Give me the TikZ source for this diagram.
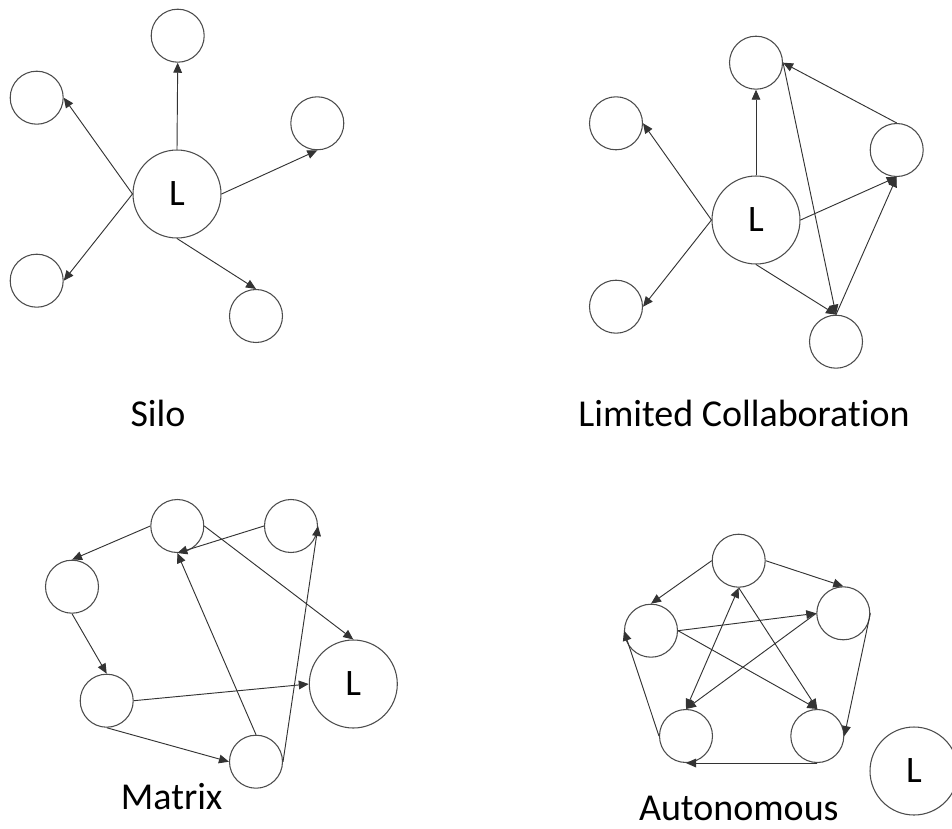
\documentclass[tikz,border=0pt]{standalone}
\usepackage{fontspec}
\setmainfont{Carlito}[Ligatures={NoCommon}]
\usetikzlibrary{arrows.meta}
\tikzset{
  sm/.style={circle,draw=black!70,line width=0.8pt,inner sep=0pt,minimum size=39.75pt,fill=white},
  big/.style={circle,draw=black!70,line width=0.8pt,inner sep=0pt,minimum size=66pt,fill=white,font=\fontsize{28}{30}\selectfont},
  edge/.style={draw=black!80,line width=0.7pt,-{Triangle[length=7.5pt,width=6.5pt]}},
  dedge/.style={draw=black!80,line width=0.7pt,{Triangle[length=7.5pt,width=6.5pt]}-{Triangle[length=7.5pt,width=6.5pt]}},
  lbl/.style={anchor=base,font=\fontsize{28.5}{30}\selectfont,inner sep=0pt}
}
\begin{document}
\begin{tikzpicture}[x=0.75pt,y=-0.75pt]
\useasboundingbox (0,0) rectangle (952,828);
% ---------- Silo ----------
\node[big] (sL) at (177,194) {L};
\node[sm] (st) at (177.7,35.7) {};
\node[sm] (slu) at (36.7,97.7) {};
\node[sm] (sr) at (317.3,123.3) {};
\node[sm] (sll) at (36.7,280.7) {};
\node[sm] (sbr) at (256,316) {};
\draw[edge] (sL.north) -- (st.south);
\draw[edge] (sL.west) -- (slu.east);
\draw[edge] (sL.west) -- (sll.east);
\draw[edge] (sL.east) -- (sr.south);
\draw[edge] (sL.south) -- (sbr.north);
\node[lbl] (silo) at (158,426.7) {Silo};
% ---------- Limited Collaboration ----------
\node[big] (cL) at (756,220) {L};
\node[sm] (ct) at (756,62.7) {};
\node[sm] (clu) at (616,123.3) {};
\node[sm] (cr) at (896.7,150) {};
\node[sm] (cll) at (616,306.7) {};
\node[sm] (cb) at (836,341.7) {};
\draw[edge] (cL.north) -- (ct.south);
\draw[edge] (cL.west) -- (clu.east);
\draw[edge] (cL.west) -- (cll.east);
\draw[edge] (cL.east) -- (cr.south);
\draw[edge] (cL.south) -- (cb.north);
\draw[edge] (ct.east) -- (cb.north);
\draw[edge] (cr.north) -- (ct.east);
\draw[edge] (cb.north) -- (cr.south);
\node[lbl] (lc) at (744,426.7) {Limited Collaboration};
% ---------- Matrix ----------
\node[big] (mL) at (353.3,684) {L};
\node[sm] (mA) at (177.3,526) {};
\node[sm] (mB) at (291,526) {};
\node[sm] (mC) at (72,586.7) {};
\node[sm] (mD) at (106.7,700.7) {};
\node[sm] (mE) at (256,761.7) {};
\draw[edge] (mA.west) -- (mC.north);
\draw[edge] (mB.west) -- (mA.south);
\draw[edge] (mA.east) -- (mL.north);
\draw[edge] (mC.south) -- (mD.north);
\draw[edge] (mD.east) -- (mL.west);
\draw[edge] (mD.south) -- (mE.west);
\draw[edge] (mE.north) -- (mA.south);
\draw[edge] (mE.east) -- (mB.east);
\node[lbl] (matrix) at (171.7,809) {Matrix};
% ---------- Autonomous ----------
\node[big] (aL) at (914,771) {L};
\node[sm] (aT) at (738.7,560.7) {};
\node[sm] (aR) at (843.3,613.3) {};
\node[sm] (aF) at (651,630.7) {};
\node[sm] (aBL) at (686,736) {};
\node[sm] (aBR) at (817.3,736) {};
\draw[edge] (aT.west) -- (aF.north);
\draw[edge] (aT.east) -- (aR.north);
\draw[edge] (aR.east) -- (aBR.east);
\draw[edge] (aBR.south) -- (aBL.south);
\draw[edge] (aBL.west) -- (aF.west);
\draw[edge] (aF.east) -- (aR.west);
\draw[edge] (aF.east) -- (aBR.north);
\draw[dedge] (aBL.north) -- (aT.south);
\draw[edge] (aT.south) -- (aBR.north);
\draw[edge] (aR.west) -- (aBL.north);
\node[lbl] (auto) at (738.8,820) {Autonomous};
\end{tikzpicture}
\end{document}
